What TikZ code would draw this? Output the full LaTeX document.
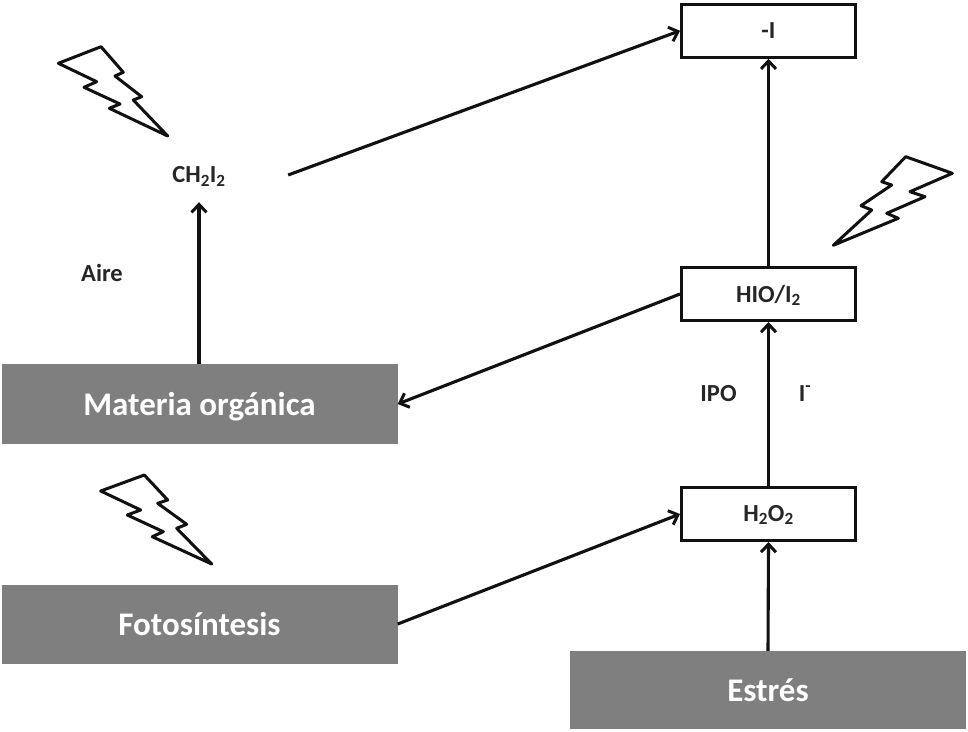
\documentclass[tikz,border=0pt]{standalone}
\usepackage{fontspec}
\setmainfont{Carlito}
\usetikzlibrary{arrows.meta}
\definecolor{graybox}{HTML}{7F7F7F}
\definecolor{ink}{HTML}{111111}
\tikzset{
  smallfont/.style={font=\fontsize{24.5}{28}\selectfont\bfseries,text=black!85},
  whitebox/.style={draw=ink,line width=3pt,fill=white,minimum width=174pt,minimum height=53pt,inner sep=0pt,smallfont,text height=18pt,text depth=2pt},
  freelabel/.style={inner sep=0pt,smallfont,text height=18pt,text depth=2pt},
  ghostbox/.style={minimum width=178pt,minimum height=54pt,inner sep=0pt,smallfont,text height=17.5pt,text depth=2pt},
  graylabel/.style={fill=graybox,draw=none,inner sep=0pt,text=white,font=\fontsize{33}{38}\selectfont\bfseries,minimum width=396pt,text height=24pt,text depth=2pt},
  conn/.style={draw=ink,line width=3.1pt,-{Straight Barb[length=8pt,width=15pt,line width=3pt]}},
  bolt/.style={draw=ink,line width=3pt,line join=round,fill=white}
}
\begin{document}
\begin{tikzpicture}[x=1pt,y=-1pt]
\useasboundingbox (0,0) rectangle (968,731);
\fill[white] (0,0) rectangle (968,731);
% grey bars
\node[graylabel,minimum height=80pt] (mat) at (199.5,404) {Materia orgánica};
\node[graylabel,minimum height=79pt] (fot) at (199.5,624) {Fotosíntesis};
\node[graylabel,minimum height=78pt] (est) at (768,690) {Estrés};
% white boxes
\node[whitebox] (i) at (768.5,30.75) {-I};
\node[whitebox] (hio) at (768.5,294) {HIO/I\textsubscript{2}};
\node[whitebox,text height=16pt] (hoo) at (768.5,514) {H\textsubscript{2}O\textsubscript{2}};
% unframed
\node[ghostbox] (ch) at (199,175) {CH\textsubscript{2}I\textsubscript{2}};
\node[freelabel] (aire) at (102,273) {Aire};
\node[freelabel] (ipo) at (718.5,393) {IPO};
\node[freelabel] (iminus) at (805,393) {I\textsuperscript{-}};
% connectors
\draw[conn] (mat.north -| ch.south) -- (ch.south);
\draw[conn] (ch.east) -- (i.west);
\draw[conn] (hio.north) -- (i.south);
\draw[conn] (hoo.north) -- (hio.south);
\draw[conn] (est.north) -- (hoo.south);
\draw[conn] (fot.east) -- (hoo.west);
\draw[conn] (hio.west) -- (mat.east);
% lightning
\draw[bolt] (58.3,63.3) -- (101,46.7) -- (123.3,72.3) -- (115,76) -- (141.7,96.7) -- (133.3,100) -- (167.7,136) -- (109.3,108.3) -- (120,104) -- (84,87.3) -- (96.7,81.7) -- cycle;
\draw[bolt] (905.7,156.7) -- (952.3,173.3) -- (910,191.7) -- (925,196.7) -- (886.7,213.3) -- (898.3,218.3) -- (833.3,245.3) -- (871.7,210) -- (861,205.7) -- (891.7,185) -- (881.7,181.7) -- cycle;
\draw[bolt] (100.7,491) -- (144.3,475) -- (167.7,500) -- (157.7,503.3) -- (186.7,524.3) -- (176.7,528.3) -- (211.7,564) -- (152.3,536.7) -- (163.3,531.7) -- (127.3,515) -- (140.7,510) -- cycle;
\end{tikzpicture}
\end{document}
